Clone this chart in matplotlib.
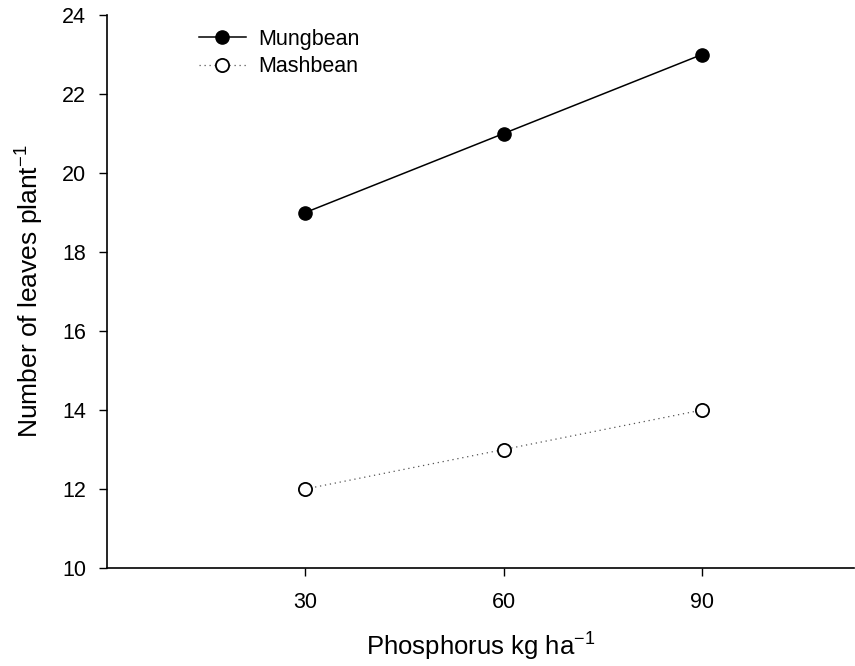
import matplotlib.pyplot as plt

plt.rcParams['font.family'] = ['Liberation Sans', 'DejaVu Sans']
plt.rcParams['mathtext.default'] = 'regular'

# phosphorus rates and leaf counts per plant
phosphorus = [30, 60, 90]
mungbean = [19, 21, 23]
mashbean = [12, 13, 14]

fig = plt.figure(figsize=(8.55, 6.66), dpi=100)
ax = fig.add_axes([0.1251, 0.1471, 0.8737, 0.8303])

ax.plot(phosphorus, mungbean, color='black', lw=1.1, marker='o',
        markersize=9.5, markerfacecolor='black', markeredgecolor='black',
        label='Mungbean')
ax.plot(phosphorus, mashbean, color='#555555', lw=0.9, ls=(0, (1, 3)),
        marker='o', markersize=9.5, markerfacecolor='white',
        markeredgecolor='black', markeredgewidth=1.3, label='Mashbean')

ax.set_xlim(0, 113)
ax.set_ylim(10, 24)
ax.set_xticks(phosphorus)
ax.set_yticks(range(10, 25, 2))
ax.tick_params(direction='out', length=6, width=1, labelsize=15.5, pad=9)
ax.tick_params(axis='x', pad=11)

for side in ['top', 'right']:
    ax.spines[side].set_visible(False)
for side in ['left', 'bottom']:
    ax.spines[side].set_linewidth(1.2)

ax.set_xlabel('Phosphorus kg ha$^{-1}$', fontsize=18.5, labelpad=13)
ax.set_ylabel('Number of leaves plant$^{-1}$', fontsize=19, labelpad=11.5)

ax.legend(loc='upper left', bbox_to_anchor=(0.097, 1.01), frameon=False,
          fontsize=15.5, handlelength=2.2, handletextpad=0.55,
          labelspacing=0.3)

fig.savefig('out.png', dpi=100)
